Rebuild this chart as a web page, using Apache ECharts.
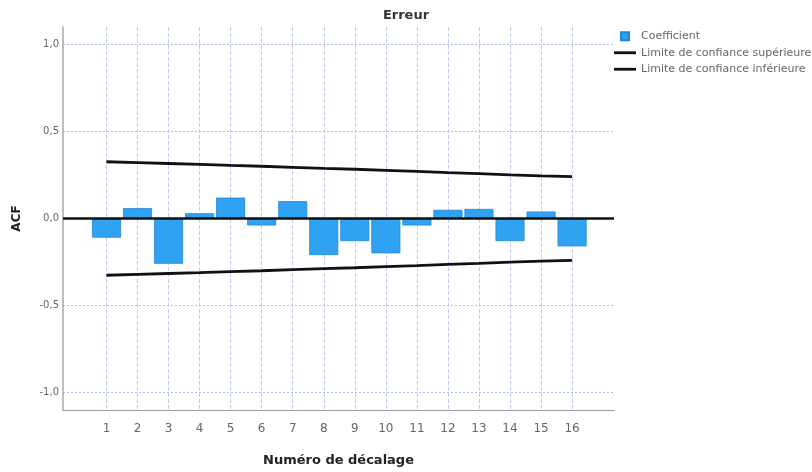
<!DOCTYPE html>
<html>
<head>
<meta charset="utf-8">
<title>Erreur - ACF</title>
<script src="https://cdn.jsdelivr.net/npm/echarts@6/dist/echarts.min.js"></script>
<style>
  html, body { margin: 0; padding: 0; background: #ffffff; }
  #chart { width: 812px; height: 472px; }
</style>
</head>
<body>
<div id="chart"></div>
<script>
// Lag numbers (x axis categories)
const lags = [1, 2, 3, 4, 5, 6, 7, 8, 9, 10, 11, 12, 13, 14, 15, 16];
// Autocorrelation coefficients of the residuals
const coefficients = [-0.11, 0.06, -0.26, 0.03, 0.12, -0.04, 0.10, -0.21, -0.13, -0.20, -0.04, 0.05, 0.055, -0.13, 0.04, -0.16];
// Upper / lower confidence limits per lag
const upperLimit = [0.326, 0.321, 0.316, 0.311, 0.305, 0.300, 0.294, 0.288, 0.283, 0.277, 0.271, 0.264, 0.258, 0.251, 0.245, 0.240];
const lowerLimit = [-0.326, -0.321, -0.316, -0.311, -0.305, -0.300, -0.294, -0.288, -0.283, -0.277, -0.271, -0.264, -0.258, -0.251, -0.245, -0.240];
// Y axis tick values
const yTicks = [-1.0, -0.5, 0.0, 0.5, 1.0];

const font = '"DejaVu Sans", Verdana, sans-serif';
const pair = (arr) => lags.map((l, i) => [l, arr[i]]);

const chart = echarts.init(document.getElementById('chart'), null, { renderer: 'canvas' });

chart.setOption({
  animation: false,
  backgroundColor: '#ffffff',
  textStyle: { fontFamily: font },
  title: {
    text: 'Erreur',
    left: 'center',
    top: 4,
    textStyle: { fontFamily: font, fontSize: 13, fontWeight: 'bold', color: '#333' }
  },
  legend: {
    orient: 'vertical',
    left: 614,
    top: 30,
    padding: 0,
    itemWidth: 22,
    itemHeight: 8,
    itemGap: 4,
    textStyle: { fontFamily: font, fontSize: 11, color: '#666', lineHeight: 12.5 },
    data: [
      { name: 'Coefficient', icon: 'path://M0,0h10v10h-10z' },
      { name: 'Limite de confiance supérieure', icon: 'path://M0,0h22v2.8h-22z' },
      { name: 'Limite de confiance inférieure', icon: 'path://M0,0h22v2.8h-22z' }
    ]
  },
  grid: { left: 63, right: 198, top: 27, bottom: 60, containLabel: false },
  xAxis: {
    type: 'value',
    min: -0.4,
    max: 17.35,
    name: 'Numéro de décalage',
    nameLocation: 'middle',
    nameGap: 44,
    nameTextStyle: { fontFamily: font, fontSize: 13, fontWeight: 'bold', color: '#222' },
    axisLine: { show: true, onZero: false, lineStyle: { color: '#9a9a9a', width: 1.2 } },
    axisTick: { show: false, customValues: lags },
    axisLabel: {
      customValues: lags,
      margin: 13,
      fontSize: 12,
      color: '#666',
      fontFamily: font
    },
    splitLine: { show: true, lineStyle: { color: '#bfcbef', type: [4, 2], width: 1 } }
  },
  yAxis: {
    type: 'value',
    min: -1.1,
    max: 1.1,
    name: 'ACF',
    nameLocation: 'middle',
    nameGap: 40,
    nameRotate: 90,
    nameTextStyle: { fontFamily: font, fontSize: 12, fontWeight: 'bold', color: '#222' },
    axisLine: { show: true, onZero: false, lineStyle: { color: '#a8a8a8', width: 1.5 } },
    axisTick: { show: false, customValues: yTicks },
    axisLabel: {
      customValues: yTicks,
      margin: 4,
      fontSize: 10,
      color: '#666',
      fontFamily: font,
      formatter: (v) => v.toFixed(1).replace('.', ',')
    },
    splitLine: { show: true, lineStyle: { color: '#a9bde9', type: [2, 2], width: 1 } }
  },
  series: [
    {
      name: 'Coefficient',
      type: 'bar',
      barWidth: 29,
      data: pair(coefficients),
      itemStyle: { color: '#30a2f2', borderColor: '#1f86d2', borderWidth: 0.8 },
      markLine: {
        silent: true,
        symbol: ['none', 'none'],
        label: { show: false },
        lineStyle: { color: '#111', width: 2.6, type: 'solid' },
        data: [{ yAxis: 0 }]
      },
      z: 3
    },
    {
      name: 'Limite de confiance supérieure',
      type: 'line',
      data: pair(upperLimit),
      symbol: 'none',
      lineStyle: { color: '#111', width: 2.8 },
      itemStyle: { color: '#111' },
      z: 4
    },
    {
      name: 'Limite de confiance inférieure',
      type: 'line',
      data: pair(lowerLimit),
      symbol: 'none',
      lineStyle: { color: '#111', width: 2.8 },
      itemStyle: { color: '#111' },
      z: 4
    }
  ]
});
</script>
</body>
</html>
